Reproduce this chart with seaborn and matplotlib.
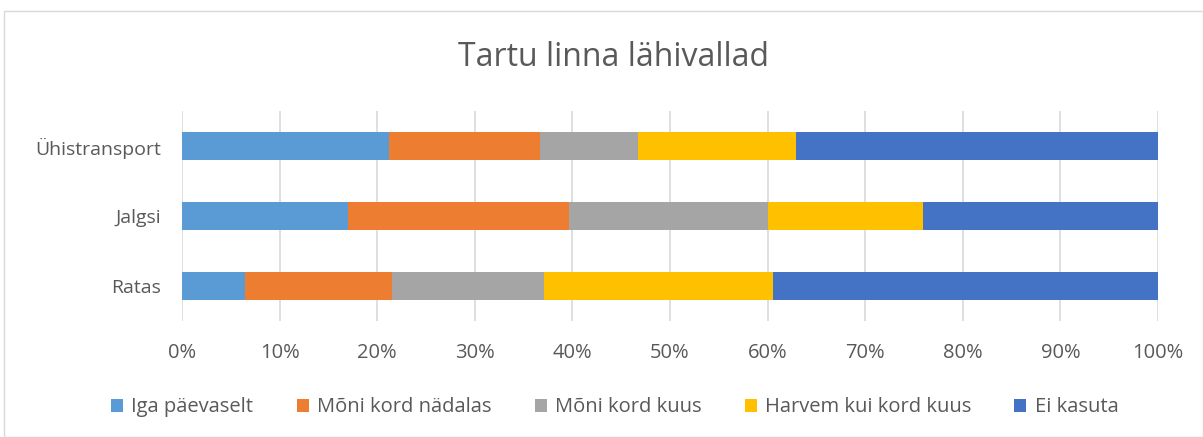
import matplotlib
matplotlib.use("Agg")
import matplotlib.pyplot as plt
import seaborn as sns
import pandas as pd
import numpy as np

# Andmed (loetud jooniselt, protsentides)
modes = ["Ühistransport", "Jalgsi", "Ratas"]
categories = ["Iga päevaselt", "Mõni kord nädalas", "Mõni kord kuus",
              "Harvem kui kord kuus", "Ei kasuta"]
iga_paevaselt = [21.2, 17.0, 6.5]
moni_kord_nadalas = [15.5, 22.6, 15.0]
moni_kord_kuus = [10.0, 20.4, 15.6]
harvem = [16.2, 15.9, 23.5]
ei_kasuta = [37.1, 24.1, 39.4]
colors = ["#5B9BD5", "#ED7D31", "#A5A5A5", "#FFC000", "#4472C4"]

sns.set_theme(style="white")
plt.rcParams["font.family"] = ["Open Sans", "DejaVu Sans"]

df = pd.DataFrame({
    "mode": modes,
    categories[0]: iga_paevaselt,
    categories[1]: moni_kord_nadalas,
    categories[2]: moni_kord_kuus,
    categories[3]: harvem,
    categories[4]: ei_kasuta,
})
cum = df[categories].cumsum(axis=1)

fig = plt.figure(figsize=(12.03, 4.37), dpi=100)
ax = fig.add_axes([0.1513, 0.265, 0.8113, 0.481])

# virnastatud tulbad: suurim kumulatiivne enne, väiksemad peale
for cat, col in reversed(list(zip(categories, colors))):
    sns.barplot(x=cum[cat], y=df["mode"], order=modes, color=col,
                width=0.39, orient="h", ax=ax, label=cat,
                saturation=1, linewidth=0)

ax.set_xlim(0, 100)
ax.set_xticks(np.arange(0, 101, 10))
ax.set_xticklabels([f"{v}%" for v in range(0, 101, 10)])
ax.set_xlabel("")
ax.set_ylabel("")
ax.xaxis.grid(True, color="#D9D9D9", linewidth=1.2)
ax.set_axisbelow(True)
for s in ax.spines.values():
    s.set_visible(False)
ax.tick_params(axis="both", length=0, labelsize=14, labelcolor="#595959")
ax.tick_params(axis="x", pad=16, labelsize=14.5)
ax.tick_params(axis="y", pad=15)

fig.text(0.51, 0.868, "Tartu linna lähivallad", ha="center", va="center",
         fontsize=23, color="#595959")

handles, labels = ax.get_legend_handles_labels()
order = [labels.index(c) for c in categories]
ax.legend([handles[i] for i in order], [labels[i] for i in order],
          loc="center", bbox_to_anchor=(0.511, 0.068), bbox_transform=fig.transFigure,
          ncol=5, frameon=False, fontsize=14.5, labelcolor="#595959",
          handlelength=0.6, handleheight=0.6, handletextpad=0.4, columnspacing=2.15)

fig.patches.append(plt.Rectangle((0.003, 0.0), 0.997, 0.975, transform=fig.transFigure,
                                 fill=False, edgecolor="#D9D9D9", linewidth=1))

plt.savefig("out.png", dpi=100)
